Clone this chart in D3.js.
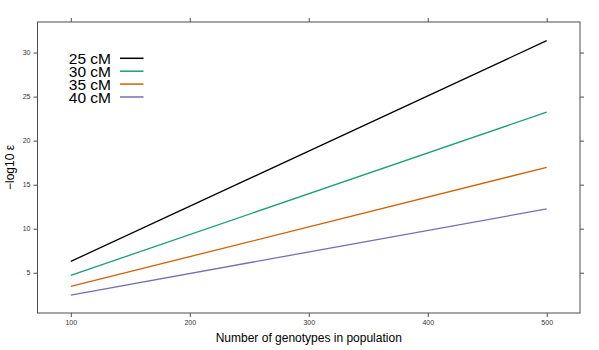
<!DOCTYPE html>
<html><head><meta charset="utf-8">
<script src="https://cdn.jsdelivr.net/npm/d3@7"></script>
<style>body{margin:0;background:#fff}svg{display:block}</style>
</head><body><svg id="c" width="599" height="350"></svg>
<script>
const populationSizes = [100, 500];
const seriesNames = ["25 cM", "30 cM", "35 cM", "40 cM"];
const seriesValues = [
  [6.29, 31.35],
  [4.70, 23.24],
  [3.45, 16.97],
  [2.47, 12.25]
];
const seriesColors = ["#000000", "#1B9E77", "#D95F02", "#7570B3"];
const xTicks = [100, 200, 300, 400, 500];
const yTicks = [5, 10, 15, 20, 25, 30];

const svg = d3.select("#c");
const L = 37.5, R = 580, T = 22, B = 313;
const x = d3.scaleLinear().domain([72, 528]).range([L, R]);
const y = d3.scaleLinear().domain([0.43, 33.47]).range([B, T]);
const frame = "#4d4d4d";

svg.append("rect").attr("x", L).attr("y", T).attr("width", R - L).attr("height", B - T)
  .attr("fill", "none").attr("stroke", frame).attr("stroke-width", 1);

function styleAxis(g, showLabels) {
  g.select(".domain").remove();
  g.selectAll(".tick line").attr("stroke", frame);
  g.selectAll(".tick text").attr("fill", "#333").attr("font-size", "7px")
    .attr("font-family", "Liberation Sans, Arial, sans-serif");
  if (!showLabels) g.selectAll(".tick text").remove();
}
svg.append("g").attr("transform", `translate(0,${B})`)
  .call(d3.axisBottom(x).tickValues(xTicks).tickSize(4).tickPadding(3).tickFormat(d3.format("d")))
  .call(g => styleAxis(g, true));
svg.append("g").attr("transform", `translate(0,${T})`)
  .call(d3.axisTop(x).tickValues(xTicks).tickSize(4))
  .call(g => styleAxis(g, false));
svg.append("g").attr("transform", `translate(${L},0)`)
  .call(d3.axisLeft(y).tickValues(yTicks).tickSize(4).tickPadding(3).tickFormat(d3.format("d")))
  .call(g => styleAxis(g, true));
svg.append("g").attr("transform", `translate(${R},0)`)
  .call(d3.axisRight(y).tickValues(yTicks).tickSize(4))
  .call(g => styleAxis(g, false));

const line = d3.line().x((d, i) => x(populationSizes[i])).y(d => y(d));
seriesValues.forEach((vals, k) => {
  svg.append("path").datum(vals).attr("d", line)
    .attr("fill", "none").attr("stroke", seriesColors[k]).attr("stroke-width", 1.3);
});

// legend
const lg = svg.append("g");
seriesNames.forEach((name, k) => {
  const by = 64 + k * 12.9;
  lg.append("text").attr("x", 111).attr("y", by).attr("text-anchor", "end")
    .attr("font-family", "Liberation Sans, Arial, sans-serif").attr("font-size", "15.5px")
    .attr("fill", "#000").text(name);
  lg.append("line").attr("x1", 120).attr("x2", 143.5).attr("y1", by - 5.7).attr("y2", by - 5.7)
    .attr("stroke", seriesColors[k]).attr("stroke-width", 1.5);
});

svg.append("text").attr("x", (L + R) / 2).attr("y", 342).attr("text-anchor", "middle")
  .attr("font-family", "Liberation Sans, Arial, sans-serif").attr("font-size", "12px")
  .text("Number of genotypes in population");
svg.append("text").attr("transform", `translate(14,${(T + B) / 2}) rotate(-90)`)
  .attr("text-anchor", "middle")
  .attr("font-family", "Liberation Sans, Arial, sans-serif").attr("font-size", "12px")
  .text("\u2212log10 \u03b5");
</script></body></html>
